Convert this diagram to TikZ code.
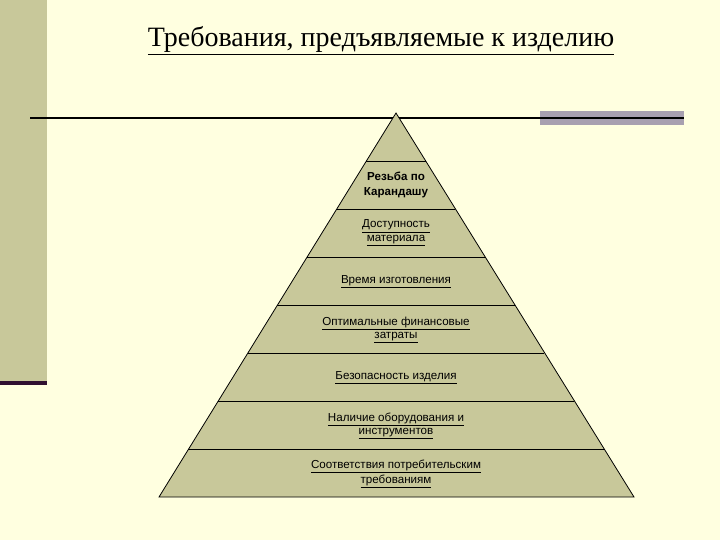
\documentclass[tikz,border=0pt]{standalone}
\usepackage{fontspec}
\setmainfont{Liberation Serif}
\newfontfamily\arialf{Liberation Sans}
\definecolor{bg}{HTML}{FFFFE0}
\definecolor{khaki}{HTML}{C8C89A}
\definecolor{grayb}{HTML}{A8A0B0}
\definecolor{dpurp}{HTML}{301030}
\newcommand{\ul}[1]{\underline{#1}}
\begin{document}
\begin{tikzpicture}[x=0.75pt,y=-0.75pt,
  lvl/.style={font=\arialf\fontsize{8.7}{10}\selectfont,align=center,inner sep=0pt}]
\fill[bg] (0,0) rectangle (720,540);
\useasboundingbox (0,0) rectangle (720,540);
\fill[khaki] (0,0) rectangle (47,383);
\fill[dpurp] (0,381) rectangle (47,385);
\node[font=\fontsize{21}{24}\selectfont] (title) at (381,41) {\ul{Требования, предъявляемые к изделию}};
\fill[grayb] (540,111) rectangle (684,125);
\coordinate (l1) at (30,118);
\coordinate (l2) at (684,118);
\draw[line width=1.5pt] (l1) -- (l2);
\coordinate (apex) at (396,113);
\coordinate (bl) at (159,497);
\coordinate (br) at (634,497);
\draw[fill=khaki,draw=black,line width=0.6pt] (apex) -- (bl) -- (br) -- cycle;
\foreach \y in {161,209,257,305,353,401,449}{
  \pgfmathsetmacro{\dx}{(\y-113)*0.6185}
  \draw[line width=0.6pt] ({396-\dx},\y) -- ({396+\dx},\y);
}
\node[lvl,font=\arialf\bfseries\fontsize{8.7}{11}\selectfont] (t1) at (396,185) {Резьба по\\Карандашу};
\node[lvl] (t2) at (396,233) {\ul{Доступность}\\\ul{материала}};
\node[lvl] (t3) at (396,282) {\ul{Время изготовления}};
\node[lvl] (t4) at (396,330) {\ul{Оптимальные финансовые}\\\ul{затраты}};
\node[lvl] (t5) at (396,378) {\ul{Безопасность изделия}};
\node[lvl] (t6) at (396,426) {\ul{Наличие оборудования и}\\\ul{инструментов}};
\node[lvl] (t7) at (396,474) {\ul{Соответствия потребительским}\\\ul{требованиям}};
\end{tikzpicture}
\end{document}
